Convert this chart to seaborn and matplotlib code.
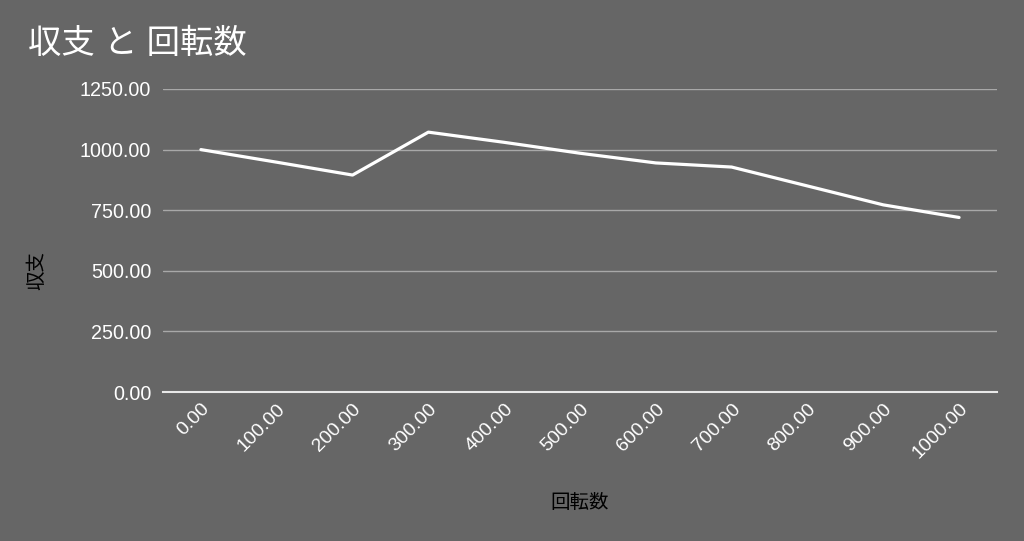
import pandas as pd
import matplotlib.pyplot as plt
import seaborn as sns
from matplotlib.ticker import FuncFormatter

# データ
kaiten = [0, 100, 200, 300, 400, 500, 600, 700, 800, 900, 1000]
shushi = [1000, 948, 895, 1072, 1030, 985, 945, 928, 850, 772, 720]
y_ticks = [0, 250, 500, 750, 1000, 1250]

df = pd.DataFrame({'回転数': kaiten, '収支': shushi})

bg = '#666666'
sns.set_theme(style="dark", rc={'axes.facecolor': bg, 'figure.facecolor': bg})
plt.rcParams['font.family'] = ['Liberation Sans', 'Noto Sans CJK JP', 'DejaVu Sans']

fig = plt.figure(figsize=(10.24, 5.41), dpi=100)
ax = fig.add_axes([163 / 1024, 1 - 392 / 541, (997 - 163) / 1024, (392 - 89) / 541])

sns.lineplot(data=df, x='回転数', y='収支', ax=ax, color='white', linewidth=2.3)

ax.set_xlim(-50, 1050)
ax.set_ylim(0, 1250)
ax.set_xticks(kaiten)
ax.set_yticks(y_ticks)
fmt = FuncFormatter(lambda v, p: f"{v:.2f}")
ax.xaxis.set_major_formatter(fmt)
ax.yaxis.set_major_formatter(fmt)

ax.grid(axis='y', color='#a8a8a8', linewidth=1)
ax.grid(axis='x', visible=False)
for s in ['top', 'right', 'left']:
    ax.spines[s].set_visible(False)
ax.spines['bottom'].set_color('#e8e8e8')
ax.spines['bottom'].set_linewidth(1.5)
ax.spines['bottom'].set_zorder(3)

ax.tick_params(axis='y', colors='white', labelsize=14.2, length=0, pad=8.5)
ax.tick_params(axis='x', colors='white', labelsize=14, length=0, pad=6)
for lbl in ax.get_xticklabels():
    lbl.set_rotation(45)
    lbl.set_ha('right')
    lbl.set_rotation_mode('anchor')

ax.set_xlabel('回転数', fontsize=14, color='black', labelpad=0)
ax.xaxis.set_label_coords(0.5, -0.335)
ax.set_ylabel('収支', fontsize=14, color='black')
ax.yaxis.set_label_coords(-0.140, 0.40)

fig.text(28 / 1024, 1 - 44 / 541, '収支 と 回転数', fontsize=24, color='white',
         ha='left', va='center')

fig.savefig('out.png', dpi=100, facecolor=bg)
